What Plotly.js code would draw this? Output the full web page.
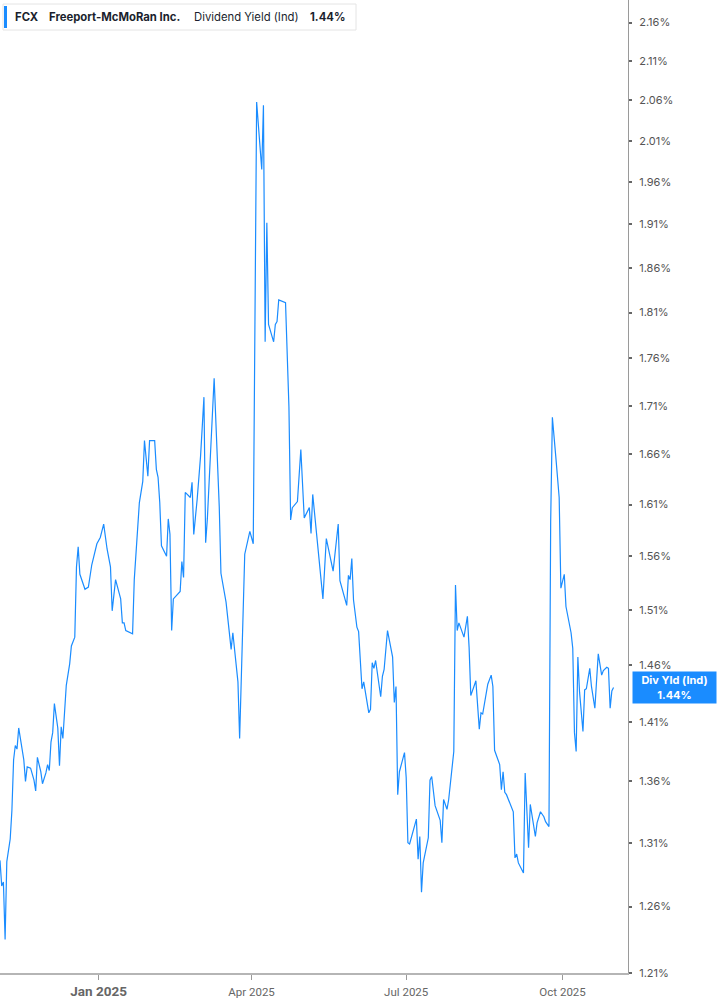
<!DOCTYPE html>
<html>
<head>
<meta charset="utf-8">
<script src="https://cdn.plot.ly/plotly-3.0.1.min.js"></script>
<style>
  html, body { margin: 0; padding: 0; background: #fff; }
  #chart { width: 717px; height: 1005px; }
</style>
</head>
<body>
<div id="chart"></div>
<script>
// FCX indicated dividend yield (%)
const dates = [
  "2024-11-04","2024-11-05","2024-11-06","2024-11-07","2024-11-08","2024-11-10","2024-11-11","2024-11-12","2024-11-13","2024-11-14","2024-11-15","2024-11-17","2024-11-18","2024-11-19","2024-11-20","2024-11-22","2024-11-24","2024-11-25","2024-11-26","2024-11-28","2024-11-29",
  "2024-12-01","2024-12-02","2024-12-03","2024-12-04","2024-12-05","2024-12-06","2024-12-08","2024-12-09","2024-12-10","2024-12-11","2024-12-13","2024-12-15","2024-12-16","2024-12-18","2024-12-19","2024-12-20","2024-12-21","2024-12-24","2024-12-26","2024-12-28","2024-12-31",
  "2025-01-02","2025-01-04","2025-01-06","2025-01-08","2025-01-09","2025-01-11","2025-01-14","2025-01-15","2025-01-16","2025-01-17","2025-01-21","2025-01-22","2025-01-24","2025-01-25","2025-01-27","2025-01-28","2025-01-30","2025-01-31",
  "2025-02-03","2025-02-04","2025-02-05","2025-02-06","2025-02-07","2025-02-10","2025-02-11","2025-02-12","2025-02-13","2025-02-14","2025-02-18","2025-02-19","2025-02-20","2025-02-21","2025-02-24","2025-02-25","2025-02-26","2025-02-28",
  "2025-03-02","2025-03-04","2025-03-05","2025-03-06","2025-03-10","2025-03-13","2025-03-14","2025-03-17","2025-03-20","2025-03-21","2025-03-24","2025-03-25","2025-03-28","2025-03-31",
  "2025-04-02","2025-04-04","2025-04-07","2025-04-08","2025-04-09","2025-04-10","2025-04-11","2025-04-14","2025-04-15","2025-04-16","2025-04-17","2025-04-21","2025-04-23","2025-04-24","2025-04-25","2025-04-28","2025-04-30",
  "2025-05-02","2025-05-05","2025-05-06","2025-05-07","2025-05-10","2025-05-13","2025-05-15","2025-05-19","2025-05-22","2025-05-23","2025-05-27","2025-05-28","2025-05-29","2025-05-30","2025-05-31",
  "2025-06-02","2025-06-03","2025-06-05","2025-06-06","2025-06-09","2025-06-10","2025-06-11","2025-06-12","2025-06-13","2025-06-16","2025-06-17","2025-06-18","2025-06-20","2025-06-23","2025-06-24","2025-06-25","2025-06-26","2025-06-27","2025-06-30",
  "2025-07-01","2025-07-02","2025-07-03","2025-07-07","2025-07-08","2025-07-09","2025-07-10","2025-07-11","2025-07-14","2025-07-15","2025-07-16","2025-07-18","2025-07-21","2025-07-22","2025-07-23","2025-07-25","2025-07-26","2025-07-28","2025-07-29","2025-07-30","2025-07-31",
  "2025-08-01","2025-08-04","2025-08-06","2025-08-07","2025-08-08","2025-08-11","2025-08-13","2025-08-14","2025-08-15","2025-08-18","2025-08-20","2025-08-21","2025-08-22","2025-08-25","2025-08-26","2025-08-27","2025-08-28","2025-08-29",
  "2025-09-02","2025-09-03","2025-09-04","2025-09-05","2025-09-08","2025-09-09","2025-09-11","2025-09-12","2025-09-15","2025-09-16","2025-09-18","2025-09-20","2025-09-21","2025-09-23","2025-09-24","2025-09-25","2025-09-27","2025-09-29","2025-09-30",
  "2025-10-02","2025-10-03","2025-10-06","2025-10-07","2025-10-08","2025-10-09","2025-10-10","2025-10-11","2025-10-13","2025-10-14","2025-10-15","2025-10-17","2025-10-18","2025-10-20","2025-10-22","2025-10-24","2025-10-25","2025-10-27","2025-10-28","2025-10-29","2025-10-30","2025-10-31"
];

const yields = [
  1.296,1.276,1.279,1.235,1.295,1.313,1.336,1.378,1.390,1.387,1.405,1.387,1.378,1.360,1.372,1.371,1.361,1.352,1.380,1.368,1.358,
  1.367,1.374,1.369,1.393,1.401,1.426,1.405,1.373,1.406,1.396,1.442,1.461,1.477,1.485,1.550,1.569,1.543,1.529,1.531,1.552,1.572,
  1.578,1.591,1.567,1.550,1.509,1.538,1.520,1.498,1.498,1.491,1.488,1.538,1.589,1.612,1.633,1.674,1.638,1.674,
  1.674,1.645,1.637,1.612,1.570,1.560,1.596,1.581,1.491,1.520,1.527,1.555,1.540,1.622,1.617,1.632,1.581,1.615,
  1.658,1.719,1.573,1.596,1.739,1.608,1.544,1.517,1.474,1.489,1.445,1.396,1.562,1.584,
  1.572,2.058,1.975,2.054,1.778,1.912,1.797,1.778,1.797,1.800,1.824,1.821,1.709,1.595,1.607,1.613,1.665,
  1.597,1.607,1.582,1.620,1.570,1.520,1.577,1.546,1.591,1.537,1.514,1.542,1.538,1.558,1.519,
  1.494,1.490,1.439,1.445,1.418,1.421,1.462,1.457,1.464,1.432,1.450,1.456,1.491,1.467,1.427,1.441,1.349,1.368,1.384,
  1.363,1.310,1.309,1.329,1.297,1.315,1.271,1.294,1.314,1.361,1.364,1.340,1.328,1.310,1.345,1.337,1.345,1.372,1.385,1.533,1.491,
  1.498,1.485,1.504,1.476,1.433,1.446,1.404,1.418,1.417,1.443,1.451,1.441,1.386,1.374,1.353,1.368,1.351,1.349,
  1.335,1.298,1.301,1.294,1.286,1.367,1.306,1.341,1.315,1.326,1.335,1.331,1.327,1.323,1.593,1.698,1.658,1.617,1.530,
  1.543,1.513,1.489,1.475,1.401,1.385,1.467,1.436,1.402,1.438,1.439,1.457,1.441,1.422,1.470,1.451,1.455,1.458,1.457,1.422,1.437,1.440
];

const yTicks = [1.21, 1.26, 1.31, 1.36, 1.41, 1.46, 1.51, 1.56, 1.61, 1.66, 1.71, 1.76, 1.81, 1.86, 1.91, 1.96, 2.01, 2.06, 2.11, 2.16];
const xTickDates = ["2025-01-01", "2025-04-01", "2025-07-01", "2025-10-01"];
const xTickLabels = ["Jan 2025", "Apr 2025", "Jul 2025", "Oct 2025"];

const ticker = "FCX";
const company = "Freeport-McMoRan Inc.";
const metric = "Dividend Yield (Ind)";
const shortMetric = "Div Yld (Ind)";

const lineColor = "#1a8cff";
const last = yields[yields.length - 1];
const lastText = last.toFixed(2) + "%";

const trace = {
  type: "scatter",
  mode: "lines",
  x: dates,
  y: yields,
  line: { color: lineColor, width: 1.2 },
  hoverinfo: "skip",
};

// paper coords for the header box (plot area is 628 x 973 px)
const px = (v) => v / 628;
const py = (v) => 1 - v / 973;
const headY = py(17);
const headFont = { family: "Inter, sans-serif", size: 11.3, color: "#1b1f2e" };

const layout = {
  width: 717,
  height: 1005,
  margin: { l: 0, r: 89, t: 0, b: 32 },
  paper_bgcolor: "#ffffff",
  plot_bgcolor: "#ffffff",
  showlegend: false,
  xaxis: {
    type: "date",
    range: ["2024-11-04", "2025-11-08 12:00"],
    tickvals: xTickDates,
    ticktext: xTickLabels.map((t, i) =>
      i === 0 ? `<span style="font-size:13.5px;font-weight:bold">${t}</span>` : t
    ),
    ticks: "outside",
    ticklen: 5,
    tickwidth: 1,
    tickcolor: "#999999",
    ticklabelstandoff: 2,
    showline: true,
    linecolor: "#b5b5b5",
    linewidth: 2,
    showgrid: false,
    zeroline: false,
    fixedrange: true,
    tickfont: { family: "Roboto, sans-serif", size: 11.5, color: "#666666" },
  },
  yaxis: {
    type: "log",
    side: "right",
    range: [Math.log10(1.21), Math.log10(2.19)],
    tickvals: yTicks,
    ticktext: yTicks.map((v) => v.toFixed(2) + "%"),
    ticks: "outside",
    ticklen: 3,
    tickwidth: 2,
    tickcolor: "#666666",
    ticklabelstandoff: 5,
    showline: true,
    linecolor: "#9a9a9a",
    linewidth: 1,
    showgrid: false,
    zeroline: false,
    fixedrange: true,
    tickfont: { family: "Inter, sans-serif", size: 11, color: "#555555" },
  },
  shapes: [
    {
      type: "rect", xref: "paper", yref: "paper",
      x0: px(3), x1: px(356), y0: py(30), y1: py(4),
      fillcolor: "#ffffff", line: { color: "#e4e4e4", width: 1 },
    },
    {
      type: "rect", xref: "paper", yref: "paper",
      x0: px(4), x1: px(7), y0: py(28), y1: py(6),
      fillcolor: lineColor, line: { width: 0 },
    },
  ],
  annotations: [
    { text: `<b>${ticker}</b>`, x: px(13), y: headY },
    { text: `<b>${company}</b>`, x: px(47), y: headY },
    { text: metric, x: px(192), y: headY },
    { text: `<b>${lastText}</b>`, x: px(308), y: headY },
  ].map((a) => ({
    ...a,
    xref: "paper", yref: "paper",
    xanchor: "left", yanchor: "middle",
    showarrow: false,
    font: headFont,
  })).concat([
    {
      xref: "paper", yref: "y",
      x: 1 + 4 / 628, y: Math.log10(last),
      xanchor: "left", yanchor: "middle",
      showarrow: false,
      text: `<b>${shortMetric}</b><br><b>${lastText}</b>`,
      align: "center",
      width: 79, height: 27,
      borderpad: 2,
      bgcolor: lineColor,
      font: { family: "Inter, sans-serif", size: 11, color: "#ffffff" },
    },
  ]),
};

Plotly.newPlot("chart", [trace], layout, { staticPlot: true, displayModeBar: false });
</script>
</body>
</html>
